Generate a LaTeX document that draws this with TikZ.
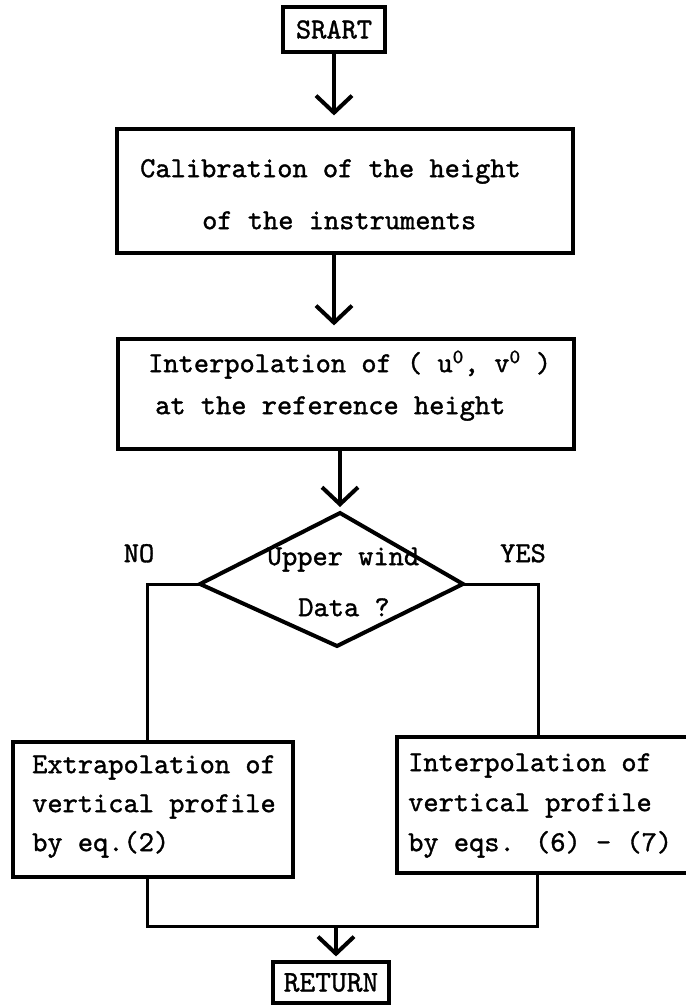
\documentclass[tikz,border=0pt]{standalone}
\usepackage{fontspec}
\newfontfamily\twf{lmmono10-regular.otf}[FakeBold=1.2]
\usetikzlibrary{arrows.meta}
\begin{document}
\begin{tikzpicture}[x=1pt,y=-1pt,
  box/.style={draw, line width=3.2pt, inner sep=0pt},
  tt/.style={font=\fontsize{29}{34}\selectfont\twf},
  ln/.style={tt, anchor=mid west, inner sep=0pt},
  lc/.style={tt, anchor=mid, inner sep=0pt},
  conn/.style={line width=3pt},
  dia/.style={line width=4pt, line join=miter},
  arr/.style={line width=4pt, -{Straight Barb[length=17pt, width=36pt]}}]
\fill[white] (0,0) rectangle (685,1006);
\useasboundingbox (0,0) rectangle (685,1006);

% boxes
\node[box, minimum width=102pt, minimum height=45pt, font=\fontsize{29}{32}\selectfont\twf] (start) at (334,29.5) {SRART};
\node[box, minimum width=456pt, minimum height=124pt] (cal) at (345,191) {};
\node[box, minimum width=456pt, minimum height=110pt] (intp) at (346,394) {};
\node[box, minimum width=280pt, minimum height=135pt] (lbox) at (153,809.5) {};
\node[box, minimum width=303pt, minimum height=136pt] (rbox) at (548.5,805) {};
\node[box, minimum width=116pt, minimum height=41pt, font=\fontsize{30}{32}\selectfont\twf] (ret) at (331,982.5) {RETURN};

% box texts
\node[ln] (cal1) at (140,175) {Calibration of the height};
\node[ln] (cal2) at (202,227) {of the instruments};
\node[ln] (int1) at (148,370) {Interpolation of ( u\textsuperscript{0}, v\textsuperscript{0} )};
\node[ln] (int2) at (155,412) {at the reference height};
\node[ln] (l1) at (32,771) {Extrapolation of};
\node[ln] (l2) at (32,810) {vertical profile};
\node[ln] (l3) at (32,849) {by eq.(2)};
\node[ln] (r1) at (408,769) {Interpolation of};
\node[ln] (r2) at (408,809) {vertical profile};
\node[ln] (r3) at (408,849) {by eqs. (6) - (7)};

% decision diamond
\coordinate (dt) at (340,513);
\coordinate (dr) at (463,584);
\coordinate (db) at (337,646);
\coordinate (dl) at (200,584);
\draw[dia] (dt) -- (dr) -- (db) -- (dl) -- cycle;
\node[lc] (q1) at (343,563) {Upper wind};
\node[lc] (q2) at (344,614) {Data ?};
\node[lc] (no) at (139,560) {NO};
\node[lc] (yes) at (523,560) {YES};

% connector points
\coordinate (rtop) at (538,737);
\coordinate (rbot) at (537,873);
\coordinate (jm) at (336,926);

% arrows
\draw[arr, shorten >=12pt] (start.south) -- (start.south |- cal.north);
\draw[arr, shorten >=12pt] (cal.south -| start.south) -- (intp.north -| start.south);
\draw[arr, shorten >=6pt] (intp.south -| dt) -- (dt);
\draw[arr, shorten >=4pt] (jm) -- (jm |- ret.north);

% branches
\draw[conn] (dl) -| ([xshift=-6pt]lbox.north);
\draw[conn] (dr) -| (rtop);
\draw[conn] ([xshift=-6pt]lbox.south) |- (jm) -| (rbot);
\end{tikzpicture}
\end{document}
